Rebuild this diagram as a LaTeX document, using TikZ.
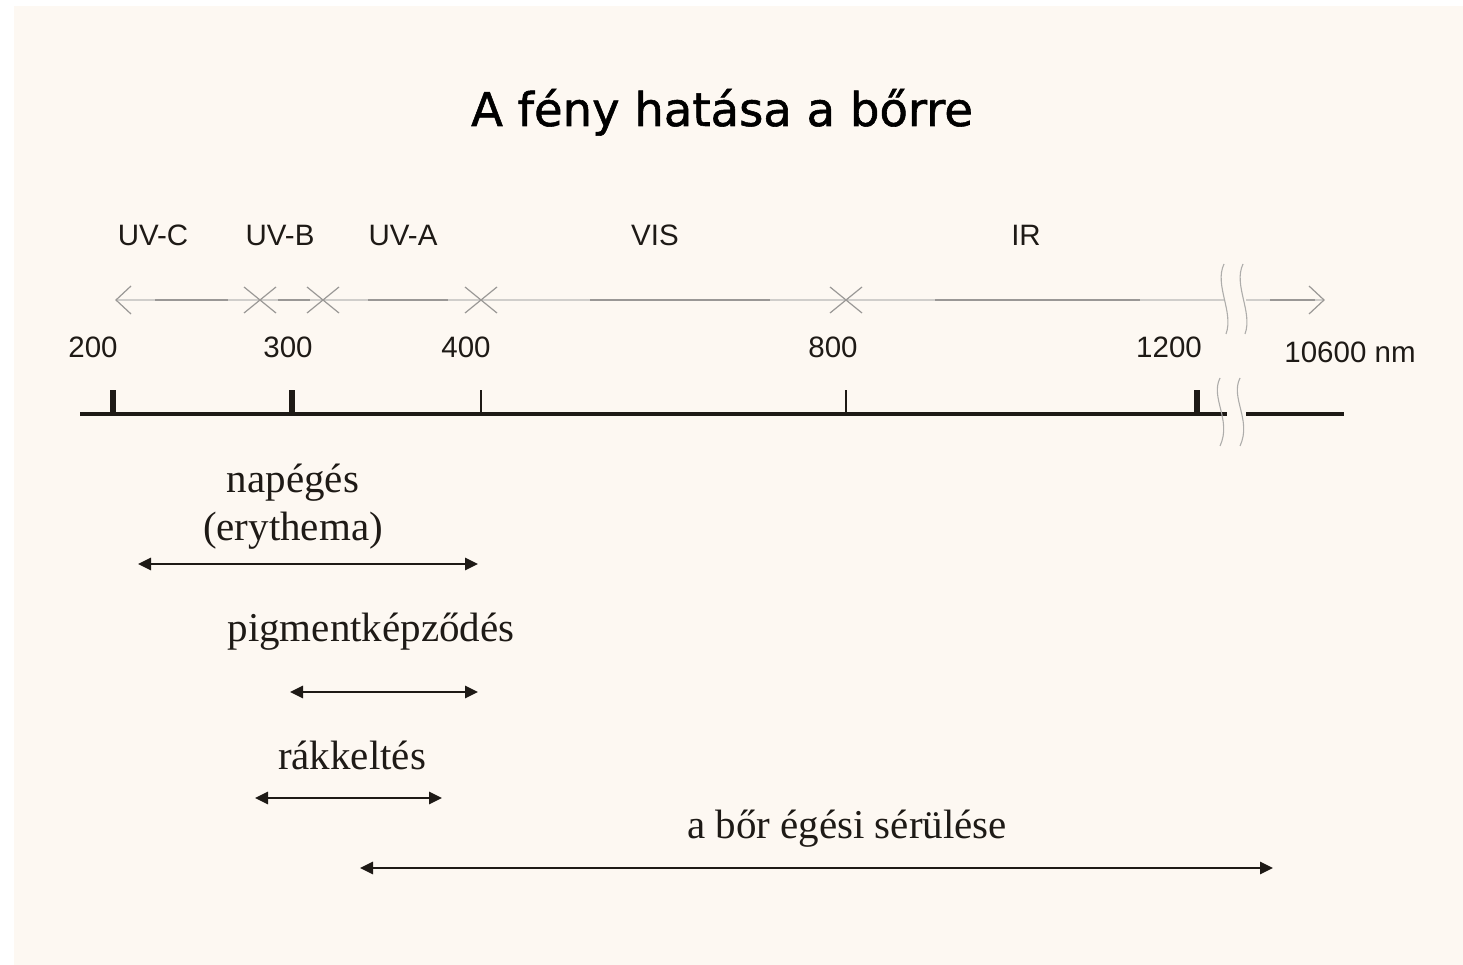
\documentclass[tikz,border=0pt]{standalone}
\usepackage{fontspec}
\setmainfont{Liberation Serif}
\newfontfamily\arialf{Liberation Sans}
\newfontfamily\titlef[FakeBold=1.2]{DejaVu Sans}
\usetikzlibrary{arrows.meta}
\definecolor{bgcream}{HTML}{FDF8F2}
\definecolor{ink}{HTML}{1E1A16}
\definecolor{lightgr}{HTML}{D0CECB}
\definecolor{midgr}{HTML}{9A9896}
\begin{document}
\begin{tikzpicture}[x=1pt,y=-1pt,
  sanslbl/.style={font=\arialf\fontsize{29.5}{32}\selectfont, text=ink, inner sep=0pt},
  effect/.style={font=\fontsize{41}{46}\selectfont, text=ink, inner sep=0pt, anchor=base},
  rangearrow/.style={ink, line width=2.8pt, {Triangle[length=13pt,width=12pt]}-{Triangle[length=13pt,width=12pt]}},
  thinline/.style={lightgr, line width=1.4pt},
  darkseg/.style={midgr, line width=1.4pt},
  xmark/.style={midgr, line width=1.2pt},
  axis/.style={ink, line width=4pt},
  bigtick/.style={ink, line width=6pt},
  smalltick/.style={ink, line width=2pt},
  wave/.style={midgr!80, line width=1.1pt}
]
\useasboundingbox (0,0) rectangle (1463,965);
\fill[white] (0,0) rectangle (1463,965);
\fill[bgcream] (14,6) rectangle (1463,965);

% title
\node[font=\titlef\fontsize{46.5}{52}\selectfont, text=black, anchor=base, inner sep=0pt] (title) at (722,126) {A fény hatása a bőrre};

% region labels
\node[sanslbl, anchor=base] (uvc) at (153,246) {UV-C};
\node[sanslbl, anchor=base] (uvb) at (280,246) {UV-B};
\node[sanslbl, anchor=base] (uva) at (403,246) {UV-A};
\node[sanslbl, anchor=base] (vis) at (655,246) {VIS};
\node[sanslbl, anchor=base] (ir) at (1026,246) {IR};

% top scale line
\coordinate (tl) at (116,300);
\coordinate (x1) at (260,300);
\coordinate (x2) at (323,300);
\coordinate (x3) at (481,300);
\coordinate (x4) at (846,300);
\coordinate (bk1) at (1224,300);
\coordinate (bk2) at (1246,300);
\coordinate (tr) at (1324,300);
\draw[thinline] (tl) -- (bk1);
\draw[thinline] (bk2) -- (tr);
\draw[darkseg] (155,300) -- (228,300);
\draw[darkseg] (278,300) -- (310,300);
\draw[darkseg] (368,300) -- (448,300);
\draw[darkseg] (590,300) -- (770,300);
\draw[darkseg] (935,300) -- (1140,300);
\draw[darkseg] (1270,300) -- (1315,300);
% end arrowheads
\draw[xmark] ([shift={(15,-14)}]tl) -- (tl) -- ([shift={(15,14)}]tl);
\draw[xmark] ([shift={(-15,-14)}]tr) -- (tr) -- ([shift={(-15,14)}]tr);
% X marks
\foreach \p in {x1,x2,x3,x4}{
  \draw[xmark] ([shift={(-16,-13)}]\p) -- ([shift={(16,13)}]\p);
  \draw[xmark] ([shift={(-16,13)}]\p) -- ([shift={(16,-13)}]\p);
}
% top break waves
\draw[wave] (1224,264) .. controls (1214,285) and (1234,312) .. (1226,334);
\draw[wave] (1243,264) .. controls (1233,285) and (1253,312) .. (1245,334);

% numbers
\node[sanslbl, anchor=base] (n200) at (93,357) {200};
\node[sanslbl, anchor=base] (n300) at (288,357) {300};
\node[sanslbl, anchor=base] (n400) at (466,357) {400};
\node[sanslbl, anchor=base] (n800) at (833,357) {800};
\node[sanslbl, anchor=base] (n1200) at (1169,357) {1200};
\node[sanslbl, anchor=base] (n10600) at (1350,362) {10600 nm};

% axis
\coordinate (al) at (80,414);
\coordinate (ab1) at (1227,414);
\coordinate (ab2) at (1246,414);
\coordinate (ar) at (1344,414);
\draw[axis] (al) -- (ab1);
\draw[axis] (ab2) -- (ar);
\coordinate (t200) at (113,414);
\coordinate (t300) at (292,414);
\coordinate (t400) at (481,414);
\coordinate (t800) at (846,414);
\coordinate (t1200) at (1197,414);
\draw[bigtick] (t200) -- ++(0,-24);
\draw[bigtick] (t300) -- ++(0,-24);
\draw[smalltick] (t400) -- ++(0,-24);
\draw[smalltick] (t800) -- ++(0,-24);
\draw[bigtick] (t1200) -- ++(0,-24);
% axis break waves
\draw[wave] (1220,378) .. controls (1210,398) and (1232,420) .. (1220,446);
\draw[wave] (1240,378) .. controls (1230,398) and (1252,420) .. (1240,446);

% effects
\node[effect] (nap) at (293,492) {napégés};
\node[effect] (ery) at (293,540) {(erythema)};
\coordinate (e1a) at (138,564);
\coordinate (e1b) at (478,564);
\draw[rangearrow] (e1a) -- (e1b);

\node[effect] (pig) at (371,641) {pigmentképződés};
\coordinate (e2a) at (290,692);
\coordinate (e2b) at (478,692);
\draw[rangearrow] (e2a) -- (e2b);

\node[effect] (rak) at (352,769) {rákkeltés};
\coordinate (e3a) at (255,798);
\coordinate (e3b) at (442,798);
\draw[rangearrow] (e3a) -- (e3b);

\node[effect] (bor) at (847,838) {a bőr égési sérülése};
\coordinate (e4a) at (360,868);
\coordinate (e4b) at (1273,868);
\draw[rangearrow] (e4a) -- (e4b);
\end{tikzpicture}
\end{document}
